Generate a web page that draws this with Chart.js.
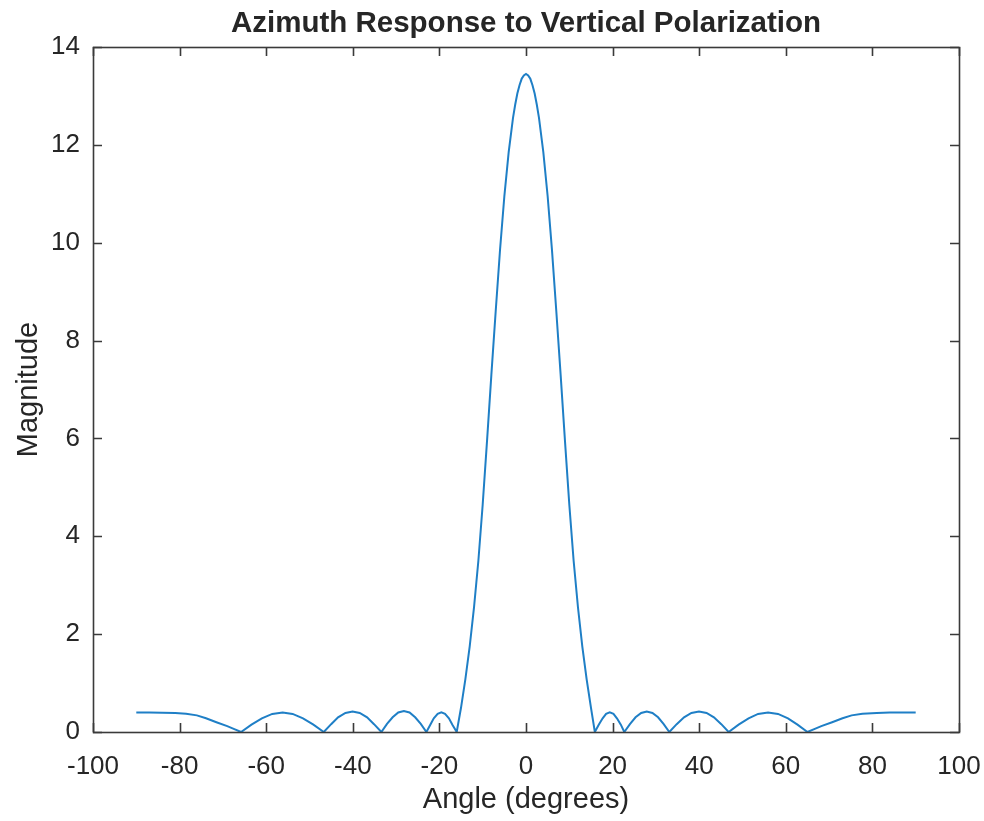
<!DOCTYPE html>
<html>
<head>
<meta charset="utf-8">
<script src="https://cdn.jsdelivr.net/npm/chart.js@4"></script>
<style>
  html, body { margin: 0; padding: 0; background: #ffffff; }
  #wrap { width: 984px; height: 821px; position: relative; }
</style>
</head>
<body>
<div id="wrap"><canvas id="c" width="984" height="821"></canvas></div>
<script>
// ---- data ----
const chartTitle = "Azimuth Response to Vertical Polarization";
const xLabel = "Angle (degrees)";
const yLabel = "Magnitude";

const xTicks = [-100, -80, -60, -40, -20, 0, 20, 40, 60, 80, 100];
const yTicks = [0, 2, 4, 6, 8, 10, 12, 14];

const angles = [
  -90, -87, -84, -81, -78.5, -76, -73.9, -71.5, -69, -67.5, -65.8,
  -63.4, -61.0, -58.6, -56.2, -53.9, -51.5, -49.1, -46.7,
  -45.0, -43.4, -41.7, -40.05, -38.4, -36.7, -35.1, -33.4,
  -32.1, -30.8, -29.5, -28.2, -26.9, -25.6, -24.3, -23.0,
  -22.1, -21.3, -20.4, -19.55, -18.7, -17.8, -17.0, -16.0,
  -15, -14, -13, -12, -11, -10, -9, -8, -7, -6, -5, -4, -3, -2.5, -2, -1.5, -1, -0.5,
  0,
  0.5, 1, 1.5, 2, 2.5, 3, 4, 5, 6, 7, 8, 9, 10, 11, 12, 13, 14, 15,
  15.9, 16.8, 17.7, 18.5, 19.35, 20.2, 21.0, 21.9, 22.7,
  24.0, 25.3, 26.6, 27.9, 29.2, 30.5, 31.8, 33.1,
  34.8, 36.5, 38.2, 39.95, 41.7, 43.4, 45.1, 46.8,
  49.1, 51.4, 53.6, 55.9, 58.2, 60.5, 62.7, 65.0,
  66.7, 68.2, 70.7, 73.1, 75.2, 77.7, 81, 84, 87, 90
];

const magnitude = [
  0.40, 0.40, 0.395, 0.39, 0.375, 0.34, 0.28, 0.20, 0.12, 0.065, 0.0,
  0.15, 0.28, 0.37, 0.40, 0.37, 0.28, 0.15, 0.0,
  0.16, 0.30, 0.39, 0.42, 0.39, 0.30, 0.16, 0.0,
  0.165, 0.30, 0.40, 0.43, 0.40, 0.30, 0.165, 0.0,
  0.15, 0.28, 0.37, 0.40, 0.37, 0.28, 0.15, 0.0,
  0.50, 1.08, 1.75, 2.55, 3.50, 4.65, 5.95, 7.30, 8.60, 9.85, 10.95, 11.85, 12.55, 12.82, 13.05, 13.22, 13.35, 13.42,
  13.45,
  13.42, 13.35, 13.22, 13.05, 12.82, 12.55, 11.85, 10.95, 9.85, 8.60, 7.30, 5.95, 4.65, 3.50, 2.55, 1.75, 1.08, 0.50,
  0.0, 0.15, 0.28, 0.37, 0.40, 0.37, 0.28, 0.15, 0.0,
  0.16, 0.30, 0.39, 0.42, 0.39, 0.30, 0.16, 0.0,
  0.16, 0.30, 0.39, 0.42, 0.39, 0.30, 0.16, 0.0,
  0.15, 0.28, 0.37, 0.40, 0.37, 0.28, 0.15, 0.0,
  0.065, 0.12, 0.20, 0.28, 0.34, 0.375, 0.39, 0.40, 0.40, 0.40
];

// ---- styling ----
const textColor = "#262626";
const axisColor = "#3a3a3a";
const lineColor = "#1f7fc6";
const fontFamily = "'Liberation Sans', Arial, Helvetica, sans-serif";

const points = angles.map((a, i) => ({ x: a, y: magnitude[i] }));

const boxTicksPlugin = {
  id: "boxTicks",
  afterDraw(chart) {
    const { ctx, chartArea: ca } = chart;
    const xs = chart.scales.x, ys = chart.scales.y;
    const tl = 9;
    ctx.save();
    ctx.strokeStyle = axisColor;
    ctx.lineWidth = 1.6;
    ctx.beginPath();
    xs.ticks.forEach(t => {
      const px = Math.round(xs.getPixelForValue(t.value)) + 0.5;
      ctx.moveTo(px, ca.bottom); ctx.lineTo(px, ca.bottom - tl);
      ctx.moveTo(px, ca.top); ctx.lineTo(px, ca.top + tl);
    });
    ys.ticks.forEach(t => {
      const py = Math.round(ys.getPixelForValue(t.value)) + 0.5;
      ctx.moveTo(ca.left, py); ctx.lineTo(ca.left + tl, py);
      ctx.moveTo(ca.right, py); ctx.lineTo(ca.right - tl, py);
    });
    ctx.stroke();
    ctx.strokeRect(Math.round(ca.left) + 0.5, Math.round(ca.top) + 0.5,
                   Math.round(ca.right - ca.left), Math.round(ca.bottom - ca.top));
    // title centred over the plot area
    ctx.fillStyle = textColor;
    ctx.font = "bold 29.5px " + fontFamily;
    ctx.textAlign = "center";
    ctx.textBaseline = "middle";
    ctx.fillText(chartTitle, (ca.left + ca.right) / 2, 23.5);
    ctx.restore();
  }
};

new Chart(document.getElementById("c"), {
  type: "line",
  data: {
    datasets: [{
      data: points,
      borderColor: lineColor,
      borderWidth: 2,
      pointRadius: 0,
      tension: 0,
      fill: false
    }]
  },
  options: {
    responsive: false,
    animation: false,
    devicePixelRatio: 1,
    layout: { padding: { left: 0, right: 25, top: 47, bottom: 0 } },
    plugins: {
      legend: { display: false },
      title: { display: false },
      tooltip: { enabled: false }
    },
    scales: {
      x: {
        type: "linear",
        min: -100, max: 100,
        afterBuildTicks: s => { s.ticks = xTicks.map(v => ({ value: v })); },
        afterFit: s => { s.height = 821 - 732; s.paddingLeft = 0; s.paddingRight = 0; },
        grid: { display: false, drawTicks: false },
        border: { display: false },
        ticks: {
          color: textColor,
          padding: 19,
          maxRotation: 0,
          autoSkip: false,
          font: { family: fontFamily, size: 26 }
        },
        title: {
          display: true,
          text: xLabel,
          color: textColor,
          padding: { top: 0, bottom: 4 },
          font: { family: fontFamily, size: 29 }
        }
      },
      y: {
        type: "linear",
        min: 0, max: 14,
        afterBuildTicks: s => { s.ticks = yTicks.map(v => ({ value: v })); },
        afterFit: s => { s.width = 93; s.paddingTop = 0; s.paddingBottom = 0; },
        grid: { display: false, drawTicks: false },
        border: { display: false },
        ticks: {
          color: textColor,
          padding: 13,
          autoSkip: false,
          font: { family: fontFamily, size: 26 }
        },
        title: {
          display: true,
          text: yLabel,
          color: textColor,
          padding: { top: 12, bottom: 0 },
          font: { family: fontFamily, size: 29 }
        }
      }
    }
  },
  plugins: [boxTicksPlugin]
});
</script>
</body>
</html>
